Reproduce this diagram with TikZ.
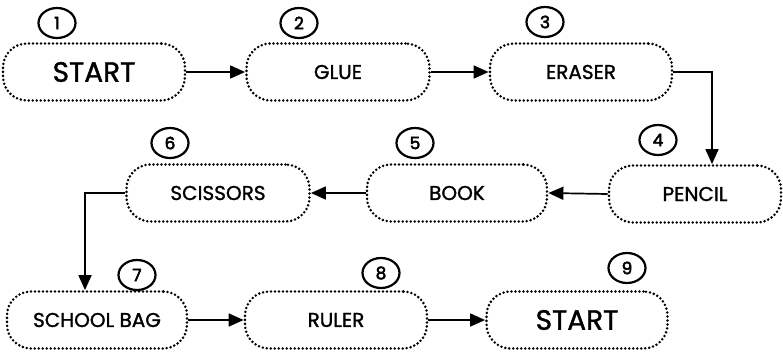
\documentclass[tikz,border=0pt]{standalone}
\usepackage{fontspec}
\setmainfont{Poppins}
\newfontfamily\labfont{Poppins}[FakeBold=1.3]
\newfontfamily\numfont{Poppins}[FakeBold=3]
\usetikzlibrary{arrows.meta,shapes.geometric}
\begin{document}
\begin{tikzpicture}[x=1pt,y=-1pt,
  stepbox/.style={draw, line width=2.8pt, dash pattern=on 0pt off 4pt, line cap=round,
     rounded corners=24pt, minimum height=57pt, inner sep=0pt, font=\labfont\fontsize{20}{20}\selectfont},
  bigbox/.style={stepbox, font=\labfont\fontsize{28}{28}\selectfont},
  numc/.style={draw, ellipse, line width=2.2pt, minimum width=37pt, minimum height=30pt, inner sep=0pt, font=\numfont\fontsize{17}{17}\selectfont},
  arr/.style={line width=1.7pt, -{Triangle[length=15pt,width=13pt]}}]
\useasboundingbox (0,0) rectangle (783,354);
\node[bigbox, minimum width=182pt] (n1) at (94,72) {START};
\node[stepbox, minimum width=183pt] (n2) at (338,72) {GLUE};
\node[stepbox, minimum width=182pt] (n3) at (581,72) {ERASER};
\node[stepbox, minimum width=172pt] (n4) at (695,194) {PENCIL};
\node[stepbox, minimum width=180pt] (n5) at (457,193) {BOOK};
\node[stepbox, minimum width=183pt] (n6) at (218,193) {SCISSORS};
\node[stepbox, minimum width=180pt] (n7) at (97,320) {SCHOOL BAG};
\node[stepbox, minimum width=182pt] (n8) at (336,320) {RULER};
\node[bigbox, minimum width=181pt] (n9) at (577,320) {START};
\node[numc] (c1) at (57,23) {1};
\node[numc] (c2) at (299,23) {2};
\node[numc] (c3) at (545,22) {3};
\node[numc] (c4) at (658,140) {4};
\node[numc] (c5) at (415,143) {5};
\node[numc] (c6) at (170,143) {6};
\node[numc] (c7) at (137,275) {7};
\node[numc] (c8) at (381,273) {8};
\node[numc] (c9) at (627,268) {9};
\coordinate (k1) at (712,0);
\coordinate (k2) at (85,0);
\draw[arr] (n1.east) -- (n2.west);
\draw[arr] (n2.east) -- (n3.west);
\draw[arr] (n3.east) -| (k1 |- n4.north);
\draw[arr] (n4.west) -- (n5.east);
\draw[arr] (n5.west) -- (n6.east);
\draw[arr] (n6.west) -| (k2 |- n7.north);
\draw[arr] (n7.east) -- (n8.west);
\draw[arr] (n8.east) -- (n9.west);
\end{tikzpicture}
\end{document}
